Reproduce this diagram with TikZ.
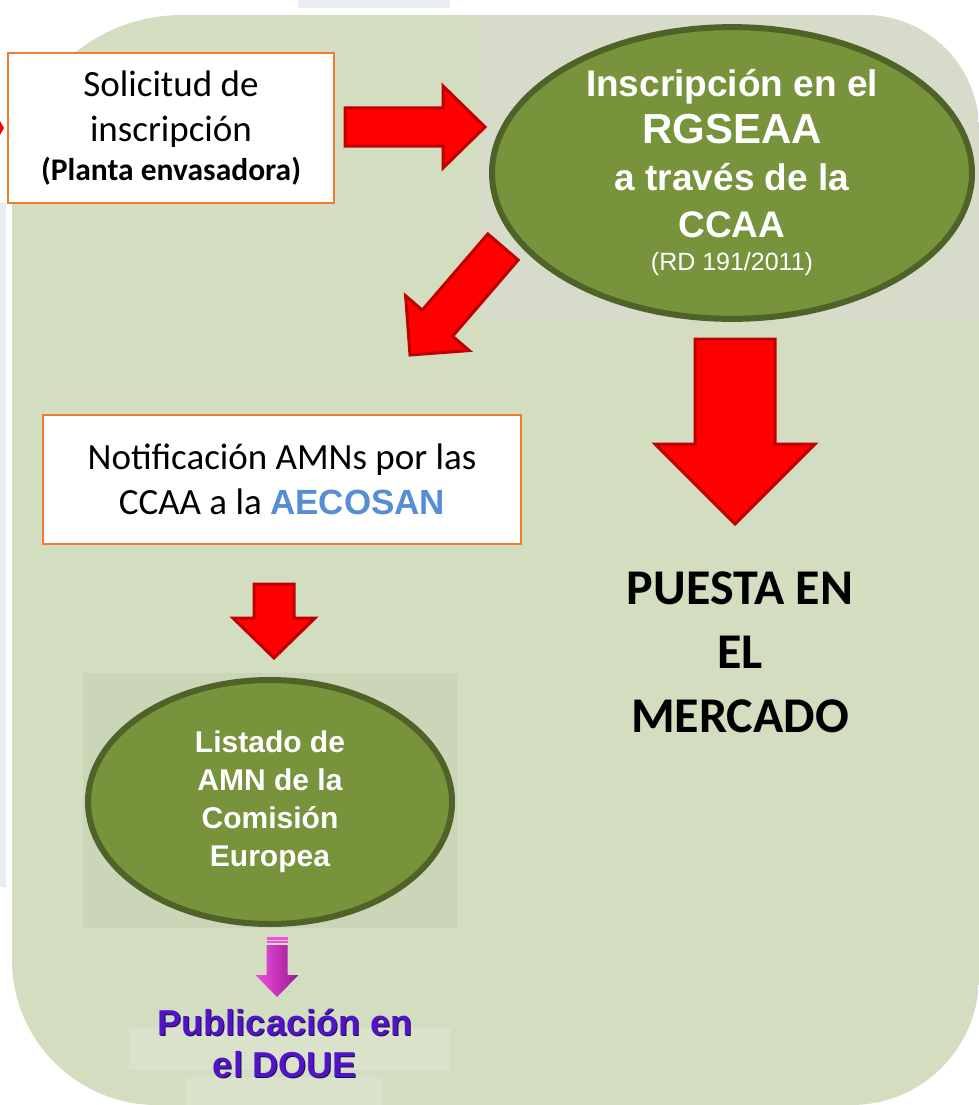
\documentclass[tikz,border=0pt]{standalone}
\usepackage{fontspec}
\setmainfont{Carlito}
\newfontfamily\arialfont{Liberation Sans}
\usepackage{tikz}
\usetikzlibrary{shapes.geometric, calc}
\definecolor{fondosalvia}{HTML}{D3DDC0}
\definecolor{fondogris}{HTML}{D6DCC9}
\definecolor{fondoverde}{HTML}{CBD6B8}
\definecolor{fondoclaro}{HTML}{DAE2CC}
\definecolor{tirazul}{HTML}{E8ECF3}
\definecolor{elipserelleno}{HTML}{77933C}
\definecolor{elipseborde}{HTML}{4F6228}
\definecolor{cajanaranja}{HTML}{ED7D31}
\definecolor{flechaoscura}{HTML}{C00000}
\definecolor{aecosanazul}{HTML}{558ED5}
\definecolor{pubvioleta}{HTML}{5214C8}
\definecolor{pubborde}{HTML}{1E0A50}
\definecolor{rosaarriba}{HTML}{F24FE2}
\definecolor{rosaabajo}{HTML}{98188E}
\tikzset{>=stealth}
\tikzset{
  pasobox/.style={draw=cajanaranja, line width=1.5pt, fill=white, align=center, inner sep=0pt},
  elipsebox/.style={ellipse, draw=elipseborde, line width=6pt, fill=elipserelleno, text=white, align=center, inner sep=0pt},
  redarrow/.style={fill=red, draw=flechaoscura, line width=3pt, line join=miter},
  pinkarrow/.style={left color=rosaarriba, right color=rosaabajo, draw=none}
}
% block arrow from one coordinate to another: shaft half width, head half width, head length
\newcommand{\blockarrow}[6][redarrow]{%
  \path (#2); \pgfgetlastxy{\bax}{\bay}%
  \path (#3); \pgfgetlastxy{\bbx}{\bby}%
  \pgfmathsetmacro\baang{atan2(\bby-\bay,\bbx-\bax)}%
  \pgfmathsetmacro\balen{veclen(\bbx-\bax,\bby-\bay)}%
  \pgfmathsetmacro\babase{\balen-#6}%
  \draw[#1, shift={(#2)}, rotate=\baang]
    (0pt,#4pt) -- (\babase pt,#4pt) -- (\babase pt,#5pt) -- (\balen pt,0pt)
    -- (\babase pt,-#5pt) -- (\babase pt,-#4pt) -- (0pt,-#4pt) -- cycle;
}

\begin{document}
\begin{tikzpicture}[x=1pt, y=-1pt]
    \useasboundingbox (0,0) rectangle (979,1105);
    % fondo
    \fill[tirazul] (0,203) rectangle (6,887);
    \fill[tirazul] (298,0) rectangle (450,8);
    \fill[red] (0,121) -- (4,128) -- (0,135) -- cycle;
    \begin{scope}
        \clip (12,185) .. controls (12,91) and (88,15) .. (182,15) -- (864,15)
            .. controls (928,15) and (979,66) .. (979,130) -- (979,977)
            .. controls (979,1048) and (922,1105) .. (851,1105) -- (157,1105)
            .. controls (77,1105) and (12,1040) .. (12,960) -- cycle;
        \fill[fondosalvia] (0,0) rectangle (979,1105);
        \fill[fondogris] (480,15) rectangle (979,322);
        \fill[fondoverde] (83,673) rectangle (457,928);
        \fill[fondoclaro] (129,1028) rectangle (450,1070);
        \fill[fondoclaro] (186,1077) rectangle (382,1105);
    \end{scope}

    \node[pasobox, minimum width=326pt, minimum height=150pt, font=\fontsize{37}{45}\selectfont] (sol) at (171,128)
        {Solicitud de\\inscripción\\[-6pt]{\fontsize{31.5}{38}\selectfont\bfseries (Planta envasadora)}};
    \node[elipsebox, minimum width=480pt, minimum height=284pt, font=\arialfont\bfseries\fontsize{37}{47}\selectfont] (ins) at (732,173)
        {Inscripción en el\\{\fontsize{42}{47}\selectfont RGSEAA}\\a través de la\\CCAA\\[-14pt]{\fontsize{25}{30}\selectfont\mdseries (RD 191/2011)}};
    \node[pasobox, minimum width=478pt, minimum height=129pt, font=\fontsize{37}{45}\selectfont] (notif) at (282,479.5)
        {Notificación AMNs por las\\CCAA a la {\arialfont\bfseries\fontsize{35}{45}\selectfont\color{aecosanazul}AECOSAN}};
    \node[elipsebox, minimum width=364pt, minimum height=244pt, font=\arialfont\bfseries\fontsize{30}{38}\selectfont] (lista) at (270,802)
        {Listado de\\AMN de la\\Comisión\\Europea};
    \node[align=center, font=\bfseries\fontsize{50}{64}\selectfont] (puesta) at (740,652) {PUESTA EN\\EL\\MERCADO};
    \node[align=center, text=pubborde, font=\arialfont\bfseries\fontsize{36}{42}\selectfont] at (286,1044) {Publicación en\\el DOUE};
    \node[align=center, text=pubvioleta, font=\arialfont\bfseries\fontsize{36}{42}\selectfont] (pub) at (285,1043) {Publicación en\\el DOUE};

    % flechas
    \coordinate (f1a) at (345,127); \coordinate (f1b) at (485,127);
    \coordinate (f2a) at (503,247); \coordinate (f2b) at (410,355);
    \coordinate (f3a) at (735,339); \coordinate (f3b) at (735,524);
    \coordinate (f4a) at (274,584); \coordinate (f4b) at (274,658);
    \coordinate (f5a) at (277,945); \coordinate (f5b) at (277,997);
    \blockarrow{f1a}{f1b}{19}{41}{42}
    \blockarrow{f2a}{f2b}{20}{42}{42}
    \blockarrow{f3a}{f3b}{40}{80}{80}
    \blockarrow{f4a}{f4b}{20}{41}{40}
    \blockarrow[pinkarrow]{f5a}{f5b}{10.5}{21.5}{22}
    \fill[rosaarriba] (266.5,937) rectangle (287.5,939.5);
    \fill[rosaarriba] (266.5,941) rectangle (287.5,943);
\end{tikzpicture}
\end{document}
